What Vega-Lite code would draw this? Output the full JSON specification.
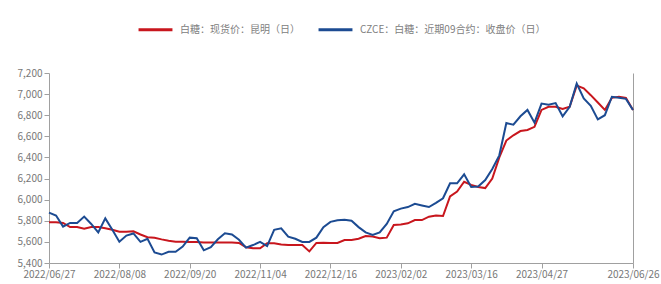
{
  "$schema": "https://vega.github.io/schema/vega-lite/v6.json",
  "autosize": {"type": "none"},
  "width": 584,
  "height": 190,
  "padding": {"left": 49, "top": 73, "right": 28, "bottom": 21},
  "background": "white",
  "config": {
    "view": {"stroke": null},
    "font": "Noto Sans CJK SC",
    "axis": {"labelFont": "Noto Sans CJK SC", "labelFontSize": 10, "labelColor": "#777777", "domainColor": "#a0a0a0", "tickColor": "#a0a0a0", "grid": false, "title": null},
    "legend": {"labelFont": "Noto Sans CJK SC", "labelFontSize": 10, "labelColor": "#808080", "labelLimit": 0}
  },
  "data": {"values": [
    {"date":"2022/06/27","s":"白糖：现货价：昆明（日）","v":5785},
    {"date":"2022/06/30","s":"白糖：现货价：昆明（日）","v":5785},
    {"date":"2022/07/05","s":"白糖：现货价：昆明（日）","v":5780},
    {"date":"2022/07/08","s":"白糖：现货价：昆明（日）","v":5740},
    {"date":"2022/07/13","s":"白糖：现货价：昆明（日）","v":5740},
    {"date":"2022/07/18","s":"白糖：现货价：昆明（日）","v":5725},
    {"date":"2022/07/21","s":"白糖：现货价：昆明（日）","v":5740},
    {"date":"2022/07/26","s":"白糖：现货价：昆明（日）","v":5740},
    {"date":"2022/07/29","s":"白糖：现货价：昆明（日）","v":5730},
    {"date":"2022/08/03","s":"白糖：现货价：昆明（日）","v":5715},
    {"date":"2022/08/08","s":"白糖：现货价：昆明（日）","v":5697},
    {"date":"2022/08/11","s":"白糖：现货价：昆明（日）","v":5695},
    {"date":"2022/08/16","s":"白糖：现货价：昆明（日）","v":5700},
    {"date":"2022/08/19","s":"白糖：现货价：昆明（日）","v":5670},
    {"date":"2022/08/24","s":"白糖：现货价：昆明（日）","v":5645},
    {"date":"2022/08/29","s":"白糖：现货价：昆明（日）","v":5640},
    {"date":"2022/09/01","s":"白糖：现货价：昆明（日）","v":5624},
    {"date":"2022/09/06","s":"白糖：现货价：昆明（日）","v":5610},
    {"date":"2022/09/09","s":"白糖：现货价：昆明（日）","v":5602},
    {"date":"2022/09/15","s":"白糖：现货价：昆明（日）","v":5602},
    {"date":"2022/09/20","s":"白糖：现货价：昆明（日）","v":5600},
    {"date":"2022/09/23","s":"白糖：现货价：昆明（日）","v":5600},
    {"date":"2022/09/28","s":"白糖：现货价：昆明（日）","v":5595},
    {"date":"2022/10/08","s":"白糖：现货价：昆明（日）","v":5595},
    {"date":"2022/10/11","s":"白糖：现货价：昆明（日）","v":5595},
    {"date":"2022/10/14","s":"白糖：现货价：昆明（日）","v":5595},
    {"date":"2022/10/19","s":"白糖：现货价：昆明（日）","v":5595},
    {"date":"2022/10/24","s":"白糖：现货价：昆明（日）","v":5590},
    {"date":"2022/10/27","s":"白糖：现货价：昆明（日）","v":5550},
    {"date":"2022/11/01","s":"白糖：现货价：昆明（日）","v":5540},
    {"date":"2022/11/04","s":"白糖：现货价：昆明（日）","v":5540},
    {"date":"2022/11/09","s":"白糖：现货价：昆明（日）","v":5587},
    {"date":"2022/11/14","s":"白糖：现货价：昆明（日）","v":5587},
    {"date":"2022/11/17","s":"白糖：现货价：昆明（日）","v":5575},
    {"date":"2022/11/22","s":"白糖：现货价：昆明（日）","v":5570},
    {"date":"2022/11/25","s":"白糖：现货价：昆明（日）","v":5570},
    {"date":"2022/11/30","s":"白糖：现货价：昆明（日）","v":5570},
    {"date":"2022/12/05","s":"白糖：现货价：昆明（日）","v":5510},
    {"date":"2022/12/08","s":"白糖：现货价：昆明（日）","v":5590},
    {"date":"2022/12/13","s":"白糖：现货价：昆明（日）","v":5593},
    {"date":"2022/12/16","s":"白糖：现货价：昆明（日）","v":5590},
    {"date":"2022/12/21","s":"白糖：现货价：昆明（日）","v":5590},
    {"date":"2022/12/26","s":"白糖：现货价：昆明（日）","v":5618},
    {"date":"2022/12/29","s":"白糖：现货价：昆明（日）","v":5618},
    {"date":"2023/01/04","s":"白糖：现货价：昆明（日）","v":5630},
    {"date":"2023/01/09","s":"白糖：现货价：昆明（日）","v":5656},
    {"date":"2023/01/12","s":"白糖：现货价：昆明（日）","v":5650},
    {"date":"2023/01/17","s":"白糖：现货价：昆明（日）","v":5635},
    {"date":"2023/01/20","s":"白糖：现货价：昆明（日）","v":5640},
    {"date":"2023/01/30","s":"白糖：现货价：昆明（日）","v":5760},
    {"date":"2023/02/02","s":"白糖：现货价：昆明（日）","v":5765},
    {"date":"2023/02/07","s":"白糖：现货价：昆明（日）","v":5776},
    {"date":"2023/02/10","s":"白糖：现货价：昆明（日）","v":5807},
    {"date":"2023/02/15","s":"白糖：现货价：昆明（日）","v":5807},
    {"date":"2023/02/20","s":"白糖：现货价：昆明（日）","v":5839},
    {"date":"2023/02/23","s":"白糖：现货价：昆明（日）","v":5850},
    {"date":"2023/02/28","s":"白糖：现货价：昆明（日）","v":5845},
    {"date":"2023/03/03","s":"白糖：现货价：昆明（日）","v":6030},
    {"date":"2023/03/08","s":"白糖：现货价：昆明（日）","v":6076},
    {"date":"2023/03/13","s":"白糖：现货价：昆明（日）","v":6170},
    {"date":"2023/03/16","s":"白糖：现货价：昆明（日）","v":6140},
    {"date":"2023/03/21","s":"白糖：现货价：昆明（日）","v":6120},
    {"date":"2023/03/24","s":"白糖：现货价：昆明（日）","v":6110},
    {"date":"2023/03/29","s":"白糖：现货价：昆明（日）","v":6200},
    {"date":"2023/04/03","s":"白糖：现货价：昆明（日）","v":6400},
    {"date":"2023/04/07","s":"白糖：现货价：昆明（日）","v":6560},
    {"date":"2023/04/12","s":"白糖：现货价：昆明（日）","v":6610},
    {"date":"2023/04/17","s":"白糖：现货价：昆明（日）","v":6650},
    {"date":"2023/04/20","s":"白糖：现货价：昆明（日）","v":6660},
    {"date":"2023/04/24","s":"白糖：现货价：昆明（日）","v":6690},
    {"date":"2023/04/27","s":"白糖：现货价：昆明（日）","v":6850},
    {"date":"2023/05/05","s":"白糖：现货价：昆明（日）","v":6880},
    {"date":"2023/05/09","s":"白糖：现货价：昆明（日）","v":6880},
    {"date":"2023/05/12","s":"白糖：现货价：昆明（日）","v":6860},
    {"date":"2023/05/17","s":"白糖：现货价：昆明（日）","v":6880},
    {"date":"2023/05/22","s":"白糖：现货价：昆明（日）","v":7080},
    {"date":"2023/05/25","s":"白糖：现货价：昆明（日）","v":7055},
    {"date":"2023/05/30","s":"白糖：现货价：昆明（日）","v":6990},
    {"date":"2023/06/02","s":"白糖：现货价：昆明（日）","v":6920},
    {"date":"2023/06/07","s":"白糖：现货价：昆明（日）","v":6850},
    {"date":"2023/06/12","s":"白糖：现货价：昆明（日）","v":6965},
    {"date":"2023/06/15","s":"白糖：现货价：昆明（日）","v":6975},
    {"date":"2023/06/20","s":"白糖：现货价：昆明（日）","v":6965},
    {"date":"2023/06/26","s":"白糖：现货价：昆明（日）","v":6850},
    {"date":"2022/06/27","s":"CZCE：白糖：近期09合约：收盘价（日）","v":5877},
    {"date":"2022/06/30","s":"CZCE：白糖：近期09合约：收盘价（日）","v":5850},
    {"date":"2022/07/05","s":"CZCE：白糖：近期09合约：收盘价（日）","v":5745},
    {"date":"2022/07/08","s":"CZCE：白糖：近期09合约：收盘价（日）","v":5780},
    {"date":"2022/07/13","s":"CZCE：白糖：近期09合约：收盘价（日）","v":5780},
    {"date":"2022/07/18","s":"CZCE：白糖：近期09合约：收盘价（日）","v":5840},
    {"date":"2022/07/21","s":"CZCE：白糖：近期09合约：收盘价（日）","v":5770},
    {"date":"2022/07/26","s":"CZCE：白糖：近期09合约：收盘价（日）","v":5690},
    {"date":"2022/07/29","s":"CZCE：白糖：近期09合约：收盘价（日）","v":5823},
    {"date":"2022/08/03","s":"CZCE：白糖：近期09合约：收盘价（日）","v":5715},
    {"date":"2022/08/08","s":"CZCE：白糖：近期09合约：收盘价（日）","v":5602},
    {"date":"2022/08/11","s":"CZCE：白糖：近期09合约：收盘价（日）","v":5660},
    {"date":"2022/08/16","s":"CZCE：白糖：近期09合约：收盘价（日）","v":5680},
    {"date":"2022/08/19","s":"CZCE：白糖：近期09合约：收盘价（日）","v":5600},
    {"date":"2022/08/24","s":"CZCE：白糖：近期09合约：收盘价（日）","v":5630},
    {"date":"2022/08/29","s":"CZCE：白糖：近期09合约：收盘价（日）","v":5500},
    {"date":"2022/09/01","s":"CZCE：白糖：近期09合约：收盘价（日）","v":5480},
    {"date":"2022/09/06","s":"CZCE：白糖：近期09合约：收盘价（日）","v":5507},
    {"date":"2022/09/09","s":"CZCE：白糖：近期09合约：收盘价（日）","v":5507},
    {"date":"2022/09/15","s":"CZCE：白糖：近期09合约：收盘价（日）","v":5555},
    {"date":"2022/09/20","s":"CZCE：白糖：近期09合约：收盘价（日）","v":5640},
    {"date":"2022/09/23","s":"CZCE：白糖：近期09合约：收盘价（日）","v":5634},
    {"date":"2022/09/28","s":"CZCE：白糖：近期09合约：收盘价（日）","v":5520},
    {"date":"2022/10/08","s":"CZCE：白糖：近期09合约：收盘价（日）","v":5550},
    {"date":"2022/10/11","s":"CZCE：白糖：近期09合约：收盘价（日）","v":5625},
    {"date":"2022/10/14","s":"CZCE：白糖：近期09合约：收盘价（日）","v":5681},
    {"date":"2022/10/19","s":"CZCE：白糖：近期09合约：收盘价（日）","v":5670},
    {"date":"2022/10/24","s":"CZCE：白糖：近期09合约：收盘价（日）","v":5620},
    {"date":"2022/10/27","s":"CZCE：白糖：近期09合约：收盘价（日）","v":5545},
    {"date":"2022/11/01","s":"CZCE：白糖：近期09合约：收盘价（日）","v":5570},
    {"date":"2022/11/04","s":"CZCE：白糖：近期09合约：收盘价（日）","v":5600},
    {"date":"2022/11/09","s":"CZCE：白糖：近期09合约：收盘价（日）","v":5560},
    {"date":"2022/11/14","s":"CZCE：白糖：近期09合约：收盘价（日）","v":5715},
    {"date":"2022/11/17","s":"CZCE：白糖：近期09合约：收盘价（日）","v":5729},
    {"date":"2022/11/22","s":"CZCE：白糖：近期09合约：收盘价（日）","v":5650},
    {"date":"2022/11/25","s":"CZCE：白糖：近期09合约：收盘价（日）","v":5630},
    {"date":"2022/11/30","s":"CZCE：白糖：近期09合约：收盘价（日）","v":5600},
    {"date":"2022/12/05","s":"CZCE：白糖：近期09合约：收盘价（日）","v":5600},
    {"date":"2022/12/08","s":"CZCE：白糖：近期09合约：收盘价（日）","v":5640},
    {"date":"2022/12/13","s":"CZCE：白糖：近期09合约：收盘价（日）","v":5740},
    {"date":"2022/12/16","s":"CZCE：白糖：近期09合约：收盘价（日）","v":5790},
    {"date":"2022/12/21","s":"CZCE：白糖：近期09合约：收盘价（日）","v":5805},
    {"date":"2022/12/26","s":"CZCE：白糖：近期09合约：收盘价（日）","v":5810},
    {"date":"2022/12/29","s":"CZCE：白糖：近期09合约：收盘价（日）","v":5800},
    {"date":"2023/01/04","s":"CZCE：白糖：近期09合约：收盘价（日）","v":5740},
    {"date":"2023/01/09","s":"CZCE：白糖：近期09合约：收盘价（日）","v":5690},
    {"date":"2023/01/12","s":"CZCE：白糖：近期09合约：收盘价（日）","v":5665},
    {"date":"2023/01/17","s":"CZCE：白糖：近期09合约：收盘价（日）","v":5690},
    {"date":"2023/01/20","s":"CZCE：白糖：近期09合约：收盘价（日）","v":5770},
    {"date":"2023/01/30","s":"CZCE：白糖：近期09合约：收盘价（日）","v":5890},
    {"date":"2023/02/02","s":"CZCE：白糖：近期09合约：收盘价（日）","v":5915},
    {"date":"2023/02/07","s":"CZCE：白糖：近期09合约：收盘价（日）","v":5930},
    {"date":"2023/02/10","s":"CZCE：白糖：近期09合约：收盘价（日）","v":5960},
    {"date":"2023/02/15","s":"CZCE：白糖：近期09合约：收盘价（日）","v":5945},
    {"date":"2023/02/20","s":"CZCE：白糖：近期09合约：收盘价（日）","v":5930},
    {"date":"2023/02/23","s":"CZCE：白糖：近期09合约：收盘价（日）","v":5970},
    {"date":"2023/02/28","s":"CZCE：白糖：近期09合约：收盘价（日）","v":6013},
    {"date":"2023/03/03","s":"CZCE：白糖：近期09合约：收盘价（日）","v":6155},
    {"date":"2023/03/08","s":"CZCE：白糖：近期09合约：收盘价（日）","v":6155},
    {"date":"2023/03/13","s":"CZCE：白糖：近期09合约：收盘价（日）","v":6240},
    {"date":"2023/03/16","s":"CZCE：白糖：近期09合约：收盘价（日）","v":6120},
    {"date":"2023/03/21","s":"CZCE：白糖：近期09合约：收盘价（日）","v":6125},
    {"date":"2023/03/24","s":"CZCE：白糖：近期09合约：收盘价（日）","v":6186},
    {"date":"2023/03/29","s":"CZCE：白糖：近期09合约：收盘价（日）","v":6290},
    {"date":"2023/04/03","s":"CZCE：白糖：近期09合约：收盘价（日）","v":6420},
    {"date":"2023/04/07","s":"CZCE：白糖：近期09合约：收盘价（日）","v":6726},
    {"date":"2023/04/12","s":"CZCE：白糖：近期09合约：收盘价（日）","v":6710},
    {"date":"2023/04/17","s":"CZCE：白糖：近期09合约：收盘价（日）","v":6790},
    {"date":"2023/04/20","s":"CZCE：白糖：近期09合约：收盘价（日）","v":6850},
    {"date":"2023/04/24","s":"CZCE：白糖：近期09合约：收盘价（日）","v":6730},
    {"date":"2023/04/27","s":"CZCE：白糖：近期09合约：收盘价（日）","v":6910},
    {"date":"2023/05/05","s":"CZCE：白糖：近期09合约：收盘价（日）","v":6900},
    {"date":"2023/05/09","s":"CZCE：白糖：近期09合约：收盘价（日）","v":6915},
    {"date":"2023/05/12","s":"CZCE：白糖：近期09合约：收盘价（日）","v":6790},
    {"date":"2023/05/17","s":"CZCE：白糖：近期09合约：收盘价（日）","v":6880},
    {"date":"2023/05/22","s":"CZCE：白糖：近期09合约：收盘价（日）","v":7100},
    {"date":"2023/05/25","s":"CZCE：白糖：近期09合约：收盘价（日）","v":6960},
    {"date":"2023/05/30","s":"CZCE：白糖：近期09合约：收盘价（日）","v":6890},
    {"date":"2023/06/02","s":"CZCE：白糖：近期09合约：收盘价（日）","v":6760},
    {"date":"2023/06/07","s":"CZCE：白糖：近期09合约：收盘价（日）","v":6800},
    {"date":"2023/06/12","s":"CZCE：白糖：近期09合约：收盘价（日）","v":6975},
    {"date":"2023/06/15","s":"CZCE：白糖：近期09合约：收盘价（日）","v":6965},
    {"date":"2023/06/20","s":"CZCE：白糖：近期09合约：收盘价（日）","v":6955},
    {"date":"2023/06/26","s":"CZCE：白糖：近期09合约：收盘价（日）","v":6850}
  ]},
  "layer": [
    {
      "mark": {"type": "line", "strokeWidth": 2, "clip": false},
      "encoding": {
        "x": {"field": "date", "type": "ordinal", "sort": "ascending",
              "scale": {"type": "point", "padding": 0},
              "axis": {"values": ["2022/06/27","2022/08/08","2022/09/20","2022/11/04","2022/12/16","2023/02/02","2023/03/16","2023/04/27","2023/06/26"],
                       "labelAngle": 0, "labelOverlap": false, "labelFlush": false, "labelBound": false, "tickSize": 5, "labelPadding": 1}},
        "y": {"field": "v", "type": "quantitative",
              "scale": {"domain": [5400, 7200], "nice": false, "zero": false},
              "axis": {"values": [5400,5600,5800,6000,6200,6400,6600,6800,7000,7200], "format": ",d", "tickSize": 5, "labelPadding": 2}},
        "color": {"field": "s", "type": "nominal",
                  "scale": {"domain": ["白糖：现货价：昆明（日）", "CZCE：白糖：近期09合约：收盘价（日）"], "range": ["#c8161d", "#1c4b92"]},
                  "legend": {"title": null, "orient": "none", "direction": "horizontal", "legendX": 88, "legendY": -62,
                             "symbolType": "stroke", "symbolSize": 1150, "symbolStrokeWidth": 3, "labelOffset": 6, "columnPadding": 12, "labelLimit": 0}}
      }
    },
    {
      "mark": {"type": "rule", "strokeOpacity": 0},
      "encoding": {
        "y": {"datum": 5400, "type": "quantitative",
              "axis": {"orient": "right", "labels": false, "ticks": false, "title": null}}
      }
    }
  ],
  "resolve": {"axis": {"y": "independent"}}
}
